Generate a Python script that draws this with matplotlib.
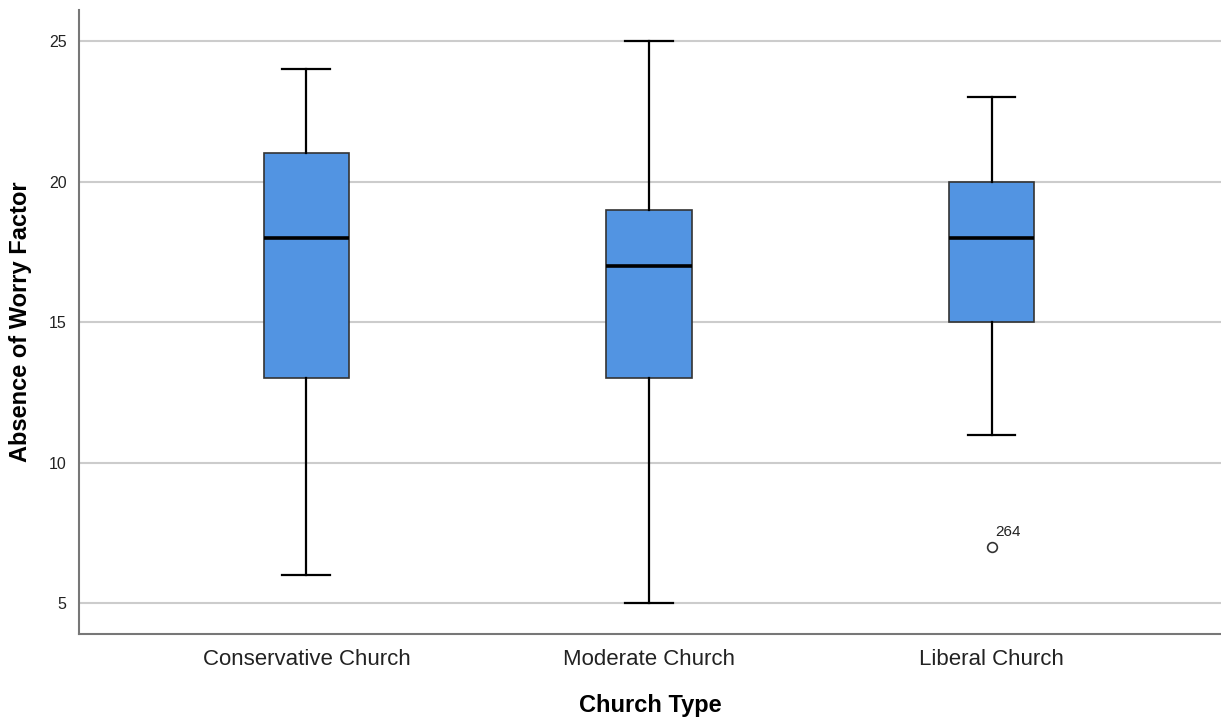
import matplotlib.pyplot as plt

plt.rcParams['font.family'] = ['Liberation Sans', 'DejaVu Sans']

# five-number summaries per church type
categories = ['Conservative Church', 'Moderate Church', 'Liberal Church']
whisker_low = [6, 5, 11]
q1 = [13, 13, 15]
medians = [18, 17, 18]
q3 = [21, 19, 20]
whisker_high = [24, 25, 23]
outliers = [[], [], [7]]
outlier_ids = [[], [], ['264']]

stats = []
for i, name in enumerate(categories):
    stats.append(dict(label=name, whislo=whisker_low[i], q1=q1[i], med=medians[i],
                      q3=q3[i], whishi=whisker_high[i], fliers=outliers[i]))

fig = plt.figure(figsize=(12.21, 7.19), dpi=100)
ax = fig.add_axes([0.0647, 0.118, 0.9353, 0.868])

positions = [0, 1, 2]
ax.bxp(stats, positions=positions, widths=0.25, patch_artist=True,
       boxprops=dict(facecolor='#5294e2', edgecolor='#333333', linewidth=1.2),
       medianprops=dict(color='black', linewidth=2.6),
       whiskerprops=dict(color='black', linewidth=1.6),
       capprops=dict(color='black', linewidth=1.6),
       capwidths=0.14,
       flierprops=dict(marker='o', markersize=7, markerfacecolor='white',
                       markeredgecolor='#333333', markeredgewidth=1.2),
       zorder=3)

# case numbers next to outliers
for pos, vals, ids in zip(positions, outliers, outlier_ids):
    for v, cid in zip(vals, ids):
        ax.annotate(cid, xy=(pos, v), xytext=(3, 6), textcoords='offset points',
                    fontsize=11, color='#222222', ha='left', va='bottom')

ax.set_xlim(-0.664, 2.67)
ax.set_ylim(3.9, 26.1)
ax.set_yticks([5, 10, 15, 20, 25])
ax.yaxis.grid(True, color='#cccccc', linewidth=1.5, zorder=0)
ax.set_axisbelow(True)
ax.tick_params(axis='both', length=0)
ax.tick_params(axis='y', labelsize=11.5, labelcolor='#222222', pad=9)
ax.tick_params(axis='x', labelsize=16, labelcolor='#222222', pad=11)

for side in ['top', 'right']:
    ax.spines[side].set_visible(False)
for side in ['left', 'bottom']:
    ax.spines[side].set_color('#777777')
    ax.spines[side].set_linewidth(1.5)

ax.set_xlabel('Church Type', fontsize=17, fontweight='bold', labelpad=17)
ax.set_ylabel('Absence of Worry Factor', fontsize=17, fontweight='bold', labelpad=12)

fig.savefig('out.png', dpi=100)
